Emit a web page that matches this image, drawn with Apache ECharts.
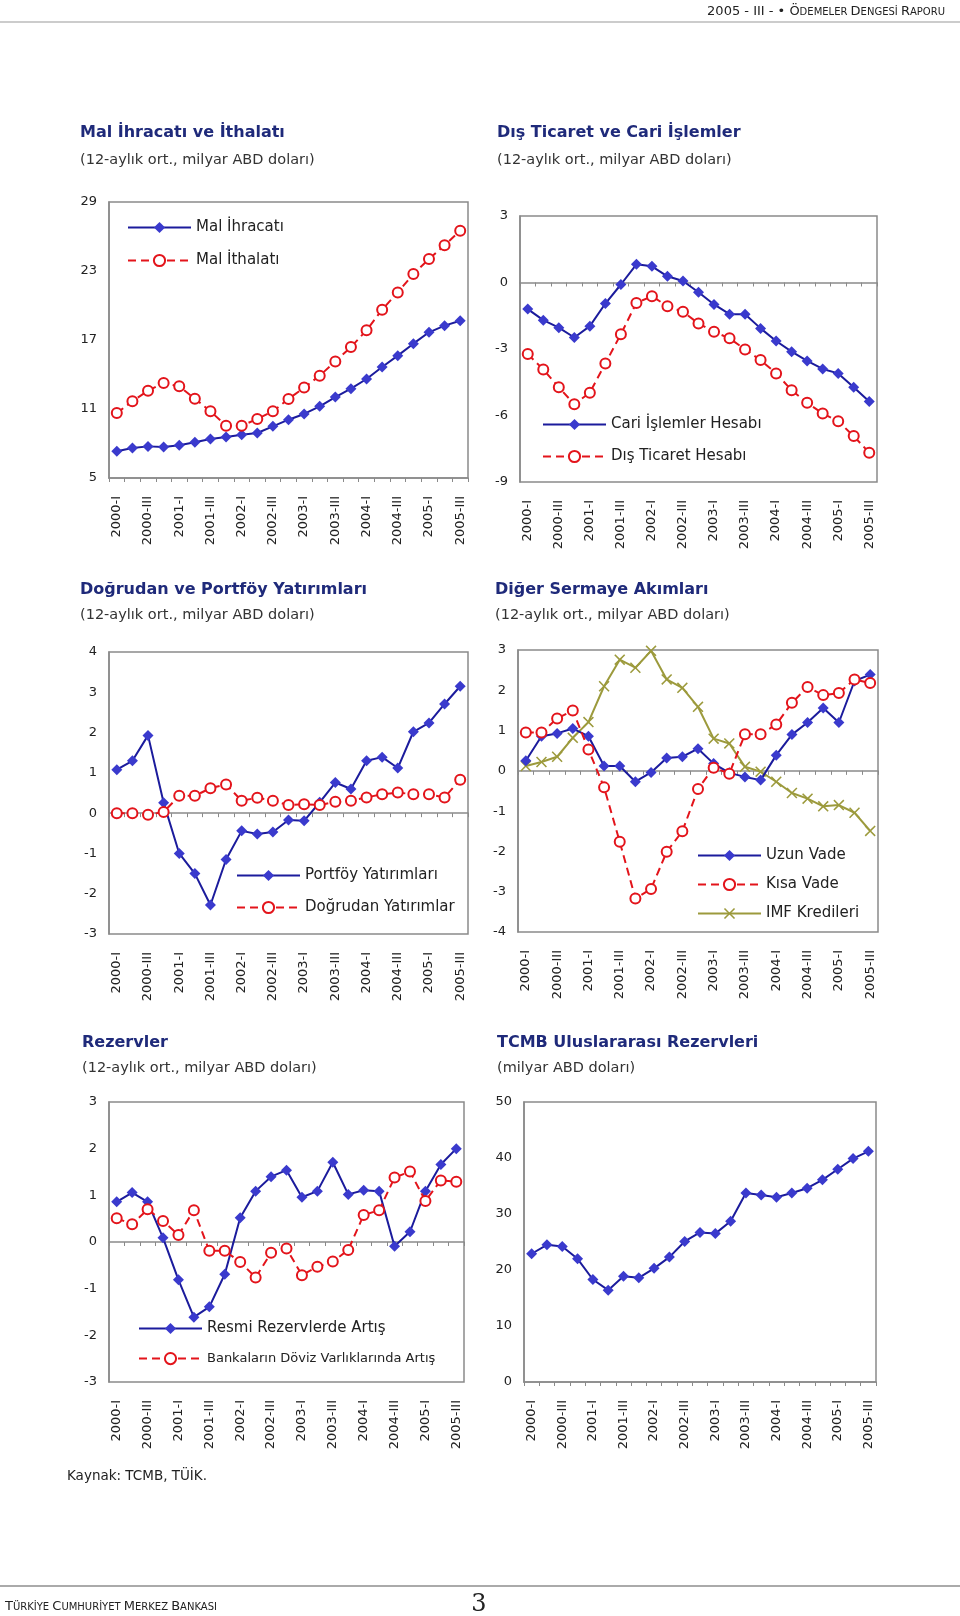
<!DOCTYPE html>
<html><head><meta charset="utf-8">
<script src="https://cdn.jsdelivr.net/npm/echarts@6/dist/echarts.min.js"></script>
<style>html,body{margin:0;padding:0;background:#fff}#c{width:960px;height:1616px}</style>
</head><body><div id="c"></div>
<script>
// ---------- DATA ----------
const categories = ['2000-I','2000-II','2000-III','2000-IV','2001-I','2001-II','2001-III','2001-IV','2002-I','2002-II','2002-III','2002-IV','2003-I','2003-II','2003-III','2003-IV','2004-I','2004-II','2004-III','2004-IV','2005-I','2005-II','2005-III'];

const malIhracati = [7.32,7.61,7.75,7.70,7.84,8.10,8.39,8.57,8.77,8.91,9.49,10.07,10.57,11.23,12.04,12.77,13.61,14.65,15.64,16.68,17.67,18.25,18.68];
const malIthalati = [10.65,11.67,12.59,13.26,12.97,11.90,10.80,9.55,9.55,10.13,10.80,11.87,12.86,13.90,15.14,16.39,17.84,19.64,21.14,22.74,24.04,25.23,26.51];

const cariIslemler = [-1.20,-1.70,-2.04,-2.48,-1.97,-0.95,-0.09,0.82,0.73,0.28,0.07,-0.44,-0.99,-1.43,-1.43,-2.07,-2.64,-3.12,-3.54,-3.90,-4.10,-4.73,-5.37];
const disTicaret = [-3.23,-3.92,-4.73,-5.49,-4.97,-3.65,-2.33,-0.92,-0.62,-1.07,-1.32,-1.85,-2.22,-2.52,-3.02,-3.50,-4.10,-4.86,-5.43,-5.91,-6.26,-6.93,-7.68];

const portfoy = [1.08,1.30,1.93,0.26,-1.00,-1.50,-2.28,-1.15,-0.44,-0.52,-0.47,-0.17,-0.19,0.27,0.76,0.60,1.30,1.39,1.12,2.02,2.24,2.71,3.15];
const dogrudan = [0.00,0.00,-0.04,0.03,0.43,0.43,0.62,0.71,0.31,0.38,0.31,0.20,0.22,0.20,0.28,0.31,0.39,0.47,0.51,0.47,0.47,0.39,0.83];

const uzunVade = [0.25,0.86,0.93,1.05,0.86,0.12,0.12,-0.27,-0.04,0.32,0.35,0.55,0.18,-0.05,-0.15,-0.23,0.39,0.90,1.20,1.56,1.20,2.23,2.39];
const kisaVade = [0.95,0.95,1.30,1.50,0.53,-0.41,-1.76,-3.17,-2.93,-2.01,-1.50,-0.45,0.08,-0.07,0.91,0.91,1.15,1.69,2.08,1.88,1.93,2.27,2.18];
const imfKredileri = [0.12,0.22,0.35,0.82,1.21,2.10,2.76,2.56,2.98,2.27,2.06,1.59,0.80,0.68,0.10,-0.02,-0.27,-0.55,-0.69,-0.88,-0.85,-1.04,-1.49];

const resmiRezerv = [0.86,1.06,0.86,0.09,-0.81,-1.61,-1.39,-0.69,0.52,1.09,1.40,1.54,0.96,1.09,1.71,1.02,1.11,1.09,-0.09,0.22,1.09,1.66,2.00];
const bankaDoviz = [0.51,0.38,0.70,0.45,0.15,0.68,-0.19,-0.19,-0.43,-0.76,-0.23,-0.14,-0.71,-0.53,-0.42,-0.17,0.58,0.68,1.38,1.51,0.88,1.32,1.29];

const tcmbRezerv = [22.9,24.5,24.2,22.0,18.3,16.4,18.9,18.6,20.3,22.3,25.1,26.7,26.5,28.7,33.75,33.4,33.0,33.75,34.6,36.1,38.0,39.9,41.2];

// y-axis ranges [min, max, interval]
const yRanges = [[5,29,6],[-9,3,3],[-3,4,1],[-4,3,1],[-3,3,1],[0,50,10]];

const chartTitles = ['Mal İhracatı ve İthalatı','Dış Ticaret ve Cari İşlemler','Doğrudan ve Portföy Yatırımları','Diğer Sermaye Akımları','Rezervler','TCMB Uluslararası Rezervleri'];
const chartSubtitles = ['(12-aylık ort., milyar ABD doları)','(12-aylık ort., milyar ABD doları)','(12-aylık ort., milyar ABD doları)','(12-aylık ort., milyar ABD doları)','(12-aylık ort., milyar ABD doları)','(milyar ABD doları)'];

// ---------- LAYOUT / STYLE ----------
const FONT = 'DejaVu Sans';
const GRAY = '#8a8a8a';
const TITLE_C = '#1f2a7a';
const TXT = '#222';
const BLUE_L = '#1b1b9c', BLUE_M = '#3a3acd', RED = '#e3141b', OLIVE = '#9c9a3c';

const gridBoxes = [
  {left:109, top:202, width:359, height:276},
  {left:520, top:216, width:357, height:266},
  {left:109, top:652, width:359, height:282},
  {left:518, top:650, width:360, height:282},
  {left:109, top:1102, width:355, height:280},
  {left:524, top:1102, width:352, height:280}
];
const titlePos = [[80,133,160],[497,133,160],[80,590,615],[495,590,615],[82,1043,1068],[497,1043,1068]];

const grid = gridBoxes.map(g => Object.assign({show:true, borderColor:GRAY, borderWidth:1.5, backgroundColor:'transparent', containLabel:false}, g));

const yAxis = yRanges.map((r,i) => ({
  type:'value', gridIndex:i, min:r[0], max:r[1], interval:r[2],
  axisLine:{show:true, lineStyle:{color:GRAY, width:1.5}},
  axisTick:{show:false}, splitLine:{show:false},
  axisLabel:{fontFamily:FONT, fontSize:13, color:TXT, margin:12}
}));

const xAxis = [];
for (let i=0;i<6;i++){
  const bottomAxis = (i===0 || i===5);
  xAxis.push({
    type:'category', gridIndex:i, data:categories, boundaryGap:true, position:'bottom',
    axisLine:{show:bottomAxis, onZero:false, lineStyle:{color:GRAY, width:1.5}},
    axisTick:{show:bottomAxis, interval:0, length:4, lineStyle:{color:GRAY}},
    axisLabel:{interval:1, rotate:90, margin:18, fontFamily:FONT, fontSize:13, color:TXT},
    splitLine:{show:false}
  });
}
[1,2,3,4].forEach(i => {
  xAxis.push({
    type:'category', gridIndex:i, data:categories, boundaryGap:true, position:'bottom',
    axisLine:{show:true, onZero:true, lineStyle:{color:GRAY, width:1.5}},
    axisTick:{show:true, interval:0, length:4, lineStyle:{color:GRAY}},
    axisLabel:{show:false}, splitLine:{show:false}
  });
});

function blueSeries(name, data, gi){
  return {name, type:'line', data, xAxisIndex:gi, yAxisIndex:gi, symbol:'diamond', symbolSize:11, showAllSymbol:true,
    lineStyle:{color:BLUE_L, width:2}, itemStyle:{color:BLUE_M}, animation:false, z:3};
}
function redSeries(name, data, gi){
  return {name, type:'line', data, xAxisIndex:gi, yAxisIndex:gi, symbol:'emptyCircle', symbolSize:10, showAllSymbol:true,
    lineStyle:{color:RED, width:2, type:[8,5]}, itemStyle:{color:RED, borderWidth:1.6}, animation:false, z:4};
}
function oliveSeries(name, data, gi){
  return {name, type:'line', data, xAxisIndex:gi, yAxisIndex:gi, showAllSymbol:true,
    symbol:'path://M0,1 L1,0 L5,4 L9,0 L10,1 L6,5 L10,9 L9,10 L5,6 L1,10 L0,9 L4,5Z', symbolSize:11,
    lineStyle:{color:OLIVE, width:2}, itemStyle:{color:OLIVE}, animation:false, z:2};
}

const series = [
  blueSeries('Mal İhracatı', malIhracati, 0),
  redSeries('Mal İthalatı', malIthalati, 0),
  blueSeries('Cari İşlemler Hesabı', cariIslemler, 1),
  redSeries('Dış Ticaret Hesabı', disTicaret, 1),
  blueSeries('Portföy Yatırımları', portfoy, 2),
  redSeries('Doğrudan Yatırımlar', dogrudan, 2),
  oliveSeries('IMF Kredileri', imfKredileri, 3),
  blueSeries('Uzun Vade', uzunVade, 3),
  redSeries('Kısa Vade', kisaVade, 3),
  blueSeries('Resmi Rezervlerde Artış', resmiRezerv, 4),
  redSeries('Bankaların Döviz Varlıklarında Artış', bankaDoviz, 4),
  blueSeries('TCMB Rezervleri', tcmbRezerv, 5)
];

function legendAt(left, top, gap, names){
  return {left, top, orient:'vertical', itemWidth:63, itemHeight:14, itemGap:gap, padding:0,
    selectedMode:false, data:names, textStyle:{fontFamily:FONT, fontSize:15, color:TXT}, z:10};
}
const legend = [
  legendAt(127, 220, 18, ['Mal İhracatı','Mal İthalatı']),
  legendAt(542, 417, 17, ['Cari İşlemler Hesabı','Dış Ticaret Hesabı']),
  legendAt(236, 868, 17, ['Portföy Yatırımları','Doğrudan Yatırımlar']),
  legendAt(697, 848, 14, ['Uzun Vade','Kısa Vade','IMF Kredileri']),
  legendAt(138, 1321, 16, [{name:'Resmi Rezervlerde Artış'}, {name:'Bankaların Döviz Varlıklarında Artış', textStyle:{fontSize:13}}])
];

const graphic = [];
chartTitles.forEach((t,i) => {
  const p = titlePos[i];
  graphic.push({type:'text', x:p[0], y:p[1], style:{text:t, font:'bold 16px "DejaVu Sans"', fill:TITLE_C, textVerticalAlign:'middle'}});
  graphic.push({type:'text', x:p[0], y:p[2], style:{text:chartSubtitles[i], font:'14.5px "DejaVu Sans"', fill:'#333', textVerticalAlign:'middle'}});
});
// header
graphic.push({type:'text', x:945, y:12, style:{
  text:'{a|2005 - III - • Ö}{b|DEMELER }{a|D}{b|ENGESİ }{a|R}{b|APORU}',
  textAlign:'right', textVerticalAlign:'middle',
  rich:{a:{fontFamily:FONT, fontSize:13, fill:'#222'}, b:{fontFamily:FONT, fontSize:10, fill:'#222'}}
}});
graphic.push({type:'line', shape:{x1:0, y1:22, x2:960, y2:22}, style:{stroke:'#999', lineWidth:1}});
// source
graphic.push({type:'text', x:67, y:1476, style:{text:'Kaynak: TCMB, TÜİK.', font:'13.5px "DejaVu Sans"', fill:'#222', textVerticalAlign:'middle'}});
// footer
graphic.push({type:'line', shape:{x1:0, y1:1586, x2:960, y2:1586}, style:{stroke:'#aaa', lineWidth:2}});
graphic.push({type:'text', x:5, y:1607, style:{
  text:'{a|T}{b|ÜRKİYE }{a|C}{b|UMHURİYET }{a|M}{b|ERKEZ }{a|B}{b|ANKASI}',
  textVerticalAlign:'middle',
  rich:{a:{fontFamily:FONT, fontSize:13, fill:'#222'}, b:{fontFamily:FONT, fontSize:10, fill:'#222'}}
}});
graphic.push({type:'text', x:479, y:1605, style:{text:'3', font:'24px "DejaVu Serif"', fill:'#222', textAlign:'center', textVerticalAlign:'middle'}});

const chart = echarts.init(document.getElementById('c'), null, {renderer:'canvas'});
chart.setOption({animation:false, backgroundColor:'#fff', grid, xAxis, yAxis, series, legend, graphic});
</script></body></html>
